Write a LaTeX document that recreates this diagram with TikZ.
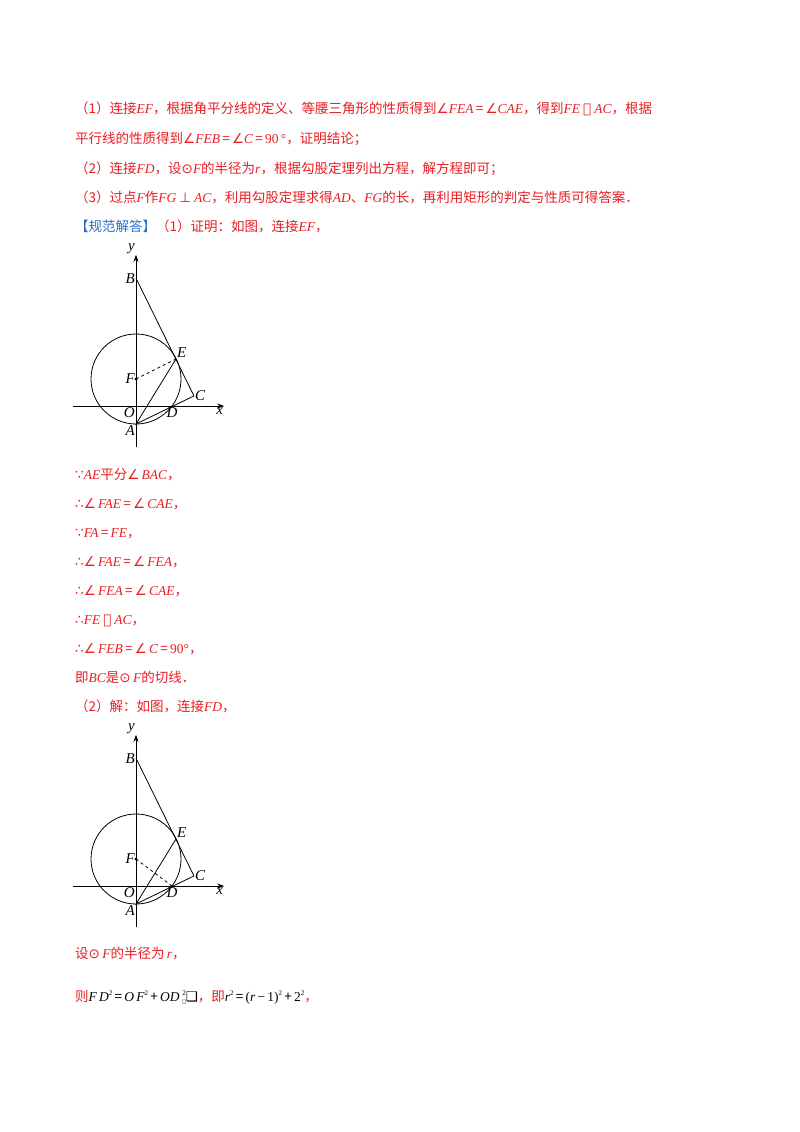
\documentclass[tikz,border=0pt]{standalone}
\usepackage{fontspec}
\setmainfont{Noto Sans CJK SC}
\newfontfamily\ltn{Liberation Serif}
\newfontfamily\sym{DejaVu Sans}
\usetikzlibrary{arrows.meta}
\definecolor{ansred}{RGB}{232,30,36}
\definecolor{ansblue}{RGB}{40,110,200}
\newcommand\mi[1]{{\ltn\itshape #1}}
\newcommand\mr[1]{{\ltn #1}}
\newcommand\sy[1]{{\sym #1}}
\tikzset{
  txt/.style={anchor=base west, inner sep=0pt, font=\fontsize{13.5}{14}\selectfont, text=ansred},
  lbl/.style={font=\ltn\itshape\fontsize{15}{15}\selectfont, inner sep=1pt},
  axis/.style={-{Stealth[length=7pt,width=5pt]}, thick},
  seg/.style={thick},
  dot/.style={circle, fill, inner sep=1.2pt}
}
\newcommand\circfig[2]{%
  \begin{scope}[shift={(136,#1)}, x=18pt, y=18pt]
    \coordinate (O) at (0,0);
    \coordinate (A) at (0,-1);
    \coordinate (B) at (0,7.1);
    \coordinate (F) at (0,1.5);
    \coordinate (D) at (2,0);
    \coordinate (E) at (2.22,2.61);
    \coordinate (C) at (3.22,0.56);
    \coordinate (xl) at (-3.5,0);
    \coordinate (xr) at (4.9,0);
    \coordinate (yb) at (0,-2.3);
    \coordinate (yt) at (0,8.4);
    \draw[axis] (xl) -- (xr);
    \draw[axis] (yb) -- (yt);
    \draw[seg] (F) circle (2.5);
    \draw[seg] (B) -- (C) -- (A) -- (E);
    \draw[seg, dashed] (F) -- (#2);
    \node[dot] (Fd) at (F) {};
    \node[lbl, above left] at (yt) {y};
    \node[lbl, left] at (B) {B};
    \node[lbl, left] at (F) {F};
    \node[lbl, above right] at (E) {E};
    \node[lbl, right] at (C) {C};
    \node[lbl, below left] at (O) {O};
    \node[lbl, below] at (D) {D};
    \node[lbl, below left] at (A) {A};
    \node[lbl, below left] at (xr) {x};
  \end{scope}}
\begin{document}
\begin{tikzpicture}[x=1pt, y=-1pt]
\useasboundingbox (0,0) rectangle (800,1132);
\fill[white] (0,0) rectangle (800,1132);
\node[txt] (l1) at (75,113) {（1）连接\mi{EF}，根据角平分线的定义、等腰三角形的性质得到\sy{∠}\mi{FEA}\,=\,\sy{∠}\mi{CAE}，得到\mi{FE} \sy{⫽} \mi{AC}，根据};
\node[txt] (l2) at (75,143) {平行线的性质得到\sy{∠}\mi{FEB}\,=\,\sy{∠}\mi{C}\,=\,\mr{90\,°}，证明结论；};
\node[txt] (l3) at (75,173) {（2）连接\mi{FD}，设\sy{⊙}\mi{F}的半径为\mi{r}，根据勾股定理列出方程，解方程即可；};
\node[txt] (l4) at (75,202) {（3）过点\mi{F}作\mi{FG} \sy{⊥} \mi{AC}，利用勾股定理求得\mi{AD}、\mi{FG}的长，再利用矩形的判定与性质可得答案．};
\node[txt] (l5) at (75,231) {\textcolor{ansblue}{【规范解答】}（1）证明：如图，连接\mi{EF}，};
\circfig{406}{E}
\node[txt] (s1) at (75,479) {\sy{∵}\mi{AE}平分\sy{∠}\,\mi{BAC}，};
\node[txt] (s2) at (75,508) {\sy{∴}\sy{∠}\,\mi{FAE}\,=\,\sy{∠}\,\mi{CAE}，};
\node[txt] (s3) at (75,537) {\sy{∵}\mi{FA}\,=\,\mi{FE}，};
\node[txt] (s4) at (75,566) {\sy{∴}\sy{∠}\,\mi{FAE}\,=\,\sy{∠}\,\mi{FEA}，};
\node[txt] (s5) at (75,595) {\sy{∴}\sy{∠}\,\mi{FEA}\,=\,\sy{∠}\,\mi{CAE}，};
\node[txt] (s6) at (75,624) {\sy{∴}\mi{FE} \sy{⫽} \mi{AC}，};
\node[txt] (s7) at (75,653) {\sy{∴}\sy{∠}\,\mi{FEB}\,=\,\sy{∠}\,\mi{C}\,=\,\mr{90°}，};
\node[txt] (s8) at (75,682) {即\mi{BC}是\sy{⊙}\,\mi{F}的切线．};
\node[txt] (s9) at (75,711) {（2）解：如图，连接\mi{FD}，};
\circfig{886}{D}
\node[txt] (t1) at (75,958) {设\sy{⊙}\,\mi{F}的半径为\,\mi{r}，};
\node[txt] (t2) at (75,1001) {则\textcolor{black}{\mi{F\,D}\raisebox{0.8ex}{\mr{\scriptsize 2}}\,=\,\mi{O\,F}\raisebox{0.8ex}{\mr{\scriptsize 2}}\,+\,\mi{OD}\,\raisebox{-0.3ex}{\sy{\tiny □}}\hspace{-0.6ex}\raisebox{0.8ex}{\mr{\scriptsize 2}}\sy{❑}}，即\textcolor{black}{\mi{r}\raisebox{0.8ex}{\mr{\scriptsize 2}}\,=\,\mr{(}\mi{r}\,\mr{−}\,\mr{1}\mr{)}\raisebox{0.8ex}{\mr{\scriptsize 2}}\,+\,\mr{2}\raisebox{0.8ex}{\mr{\scriptsize 2}}}，};
\end{tikzpicture}
\end{document}
